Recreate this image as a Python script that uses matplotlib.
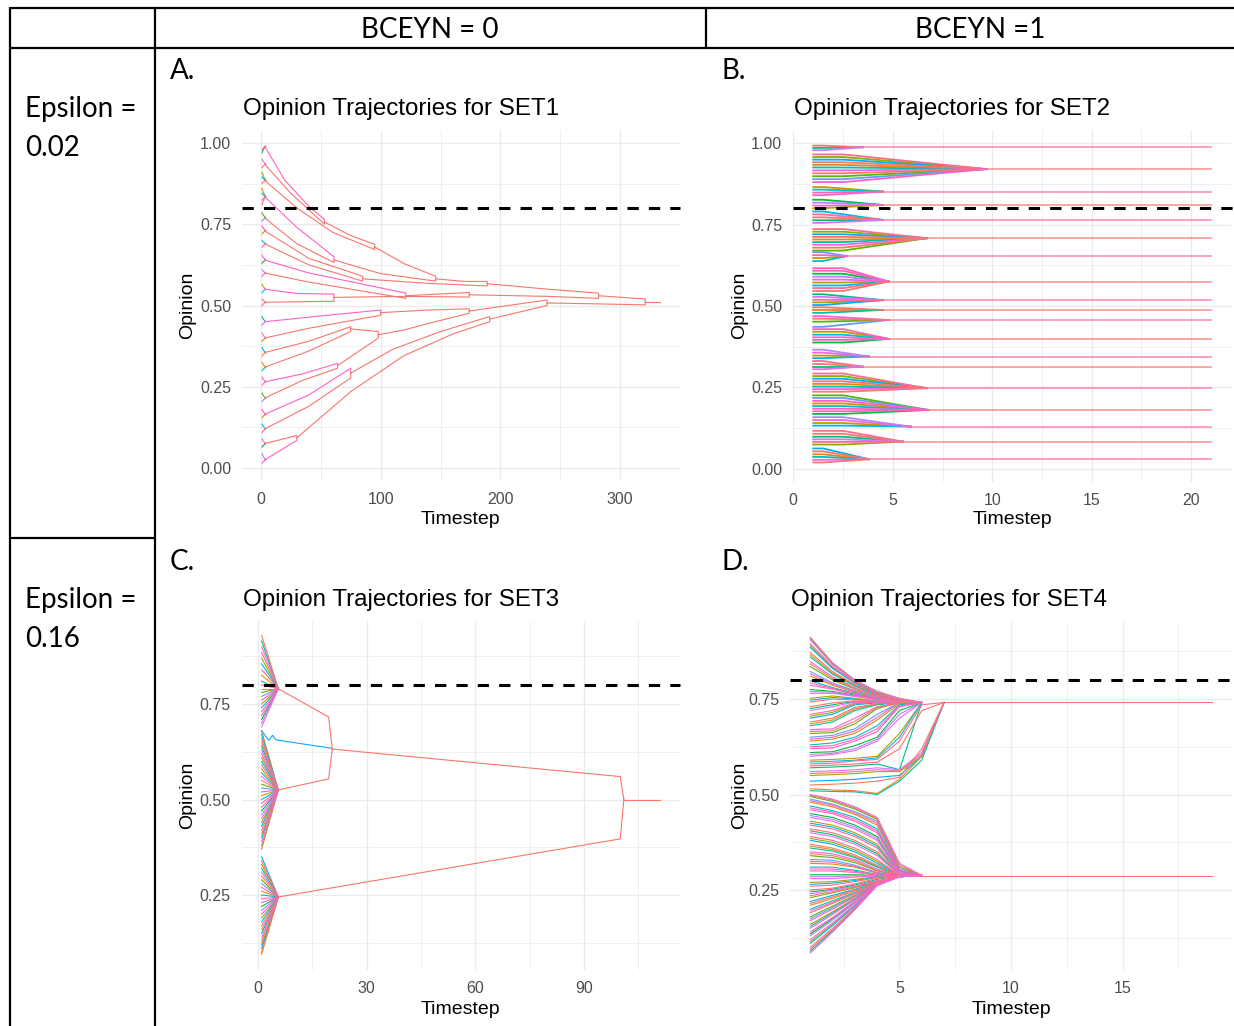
import matplotlib
matplotlib.use("Agg")
import matplotlib.pyplot as plt

W, H = 1234, 1026

# ggplot-like hue palette used for agent colours (pink tones repeated, as they dominate the picture)
HUE = ['#F8766D', '#E7861B', '#D39200', '#B79F00', '#93AA00', '#5EB300',
       '#00BA38', '#00BF74', '#00C19F', '#00BFC4', '#00B9E3', '#00ADFA',
       '#619CFF', '#AE87FF', '#DB72FB', '#F564E3', '#FF61C3', '#FF6C91',
       '#F8766D', '#FF61C3', '#F564E3', '#FF6C91', '#F8766D', '#FF61C3']
PINK_SET = {'#F8766D', '#F564E3', '#FF61C3', '#FF6C91', '#DB72FB'}
SALMON = '#F8766D'
PINK = '#FF61C3'

# ---------------- table text ----------------
col_headers = ['BCEYN = 0', 'BCEYN =1']
row_headers = [('Epsilon =', '0.02'), ('Epsilon =', '0.16')]
panel_letters = ['A.', 'B.', 'C.', 'D.']
titles = ['Opinion Trajectories for SET1', 'Opinion Trajectories for SET2',
          'Opinion Trajectories for SET3', 'Opinion Trajectories for SET4']

# ---------------- panel A (SET1): merging cluster branches (t, opinion) ----------------
A_branches = [
    [(3, 0.99), (20, 0.885), (40, 0.805), (53, 0.765), (53, 0.757)],
    [(3, 0.935), (25, 0.845), (53, 0.75), (53, 0.757)],
    [(53, 0.757), (75, 0.715), (95, 0.688), (95, 0.68)],
    [(3, 0.885), (30, 0.80), (60, 0.725), (95, 0.672), (95, 0.68)],
    [(95, 0.68), (120, 0.628), (146, 0.59), (146, 0.582)],
    [(3, 0.835), (30, 0.74), (61, 0.65), (61, 0.64)],
    [(3, 0.77), (30, 0.69), (61, 0.632), (61, 0.64)],
    [(61, 0.64), (100, 0.598), (146, 0.575), (146, 0.582)],
    [(146, 0.582), (170, 0.574), (189, 0.574), (189, 0.567)],
    [(3, 0.73), (40, 0.645), (85, 0.59), (85, 0.582)],
    [(3, 0.69), (40, 0.625), (85, 0.575), (85, 0.582)],
    [(85, 0.582), (140, 0.568), (189, 0.56), (189, 0.567)],
    [(189, 0.567), (240, 0.55), (282, 0.538), (282, 0.53)],
    [(3, 0.64), (40, 0.60), (121, 0.538), (121, 0.53)],
    [(3, 0.60), (40, 0.572), (121, 0.522), (121, 0.53)],
    [(3, 0.55), (30, 0.537), (61, 0.535), (61, 0.525)],
    [(3, 0.51), (61, 0.513), (61, 0.525)],
    [(61, 0.525), (120, 0.528), (174, 0.526), (174, 0.533)],
    [(121, 0.53), (174, 0.54), (174, 0.533)],
    [(174, 0.533), (240, 0.528), (282, 0.522), (282, 0.53)],
    [(282, 0.53), (321, 0.52), (321, 0.511)],
    [(3, 0.45), (50, 0.468), (100, 0.486), (100, 0.478)],
    [(3, 0.40), (40, 0.43), (100, 0.47), (100, 0.478)],
    [(100, 0.478), (140, 0.486), (174, 0.49), (174, 0.483)],
    [(3, 0.355), (40, 0.39), (75, 0.435), (75, 0.428)],
    [(3, 0.31), (40, 0.36), (75, 0.42), (75, 0.428)],
    [(75, 0.428), (98, 0.42), (98, 0.41)],
    [(3, 0.265), (35, 0.29), (64, 0.322), (64, 0.315)],
    [(3, 0.215), (35, 0.27), (64, 0.307), (64, 0.315)],
    [(64, 0.315), (98, 0.40), (98, 0.41)],
    [(98, 0.41), (120, 0.425), (140, 0.445), (174, 0.476), (174, 0.483)],
    [(174, 0.483), (239, 0.517), (239, 0.508)],
    [(3, 0.165), (40, 0.225), (75, 0.307), (75, 0.292)],
    [(3, 0.12), (40, 0.19), (75, 0.277), (75, 0.292)],
    [(75, 0.292), (110, 0.365), (150, 0.42), (191, 0.466), (191, 0.458)],
    [(3, 0.075), (30, 0.10), (30, 0.093)],
    [(3, 0.025), (30, 0.085), (30, 0.093)],
    [(30, 0.093), (75, 0.235), (119, 0.345), (160, 0.412), (191, 0.45), (191, 0.458)],
    [(191, 0.458), (239, 0.50), (239, 0.508)],
    [(239, 0.508), (280, 0.505), (321, 0.502), (321, 0.511)],
    [(321, 0.511), (333, 0.511)],
]
A_branch_pink = [0, 5, 13, 15, 21, 27, 32, 36]

# early agents of SET1: opinion at t=1 and the local cluster reached at t=4
A_early_start = [0.98, 0.97, 0.95, 0.925, 0.91, 0.895, 0.875, 0.86, 0.845, 0.825,
                 0.81, 0.785, 0.76, 0.745, 0.72, 0.70, 0.68, 0.655, 0.63, 0.61,
                 0.59, 0.565, 0.54, 0.52, 0.50, 0.465, 0.44, 0.415, 0.39, 0.37,
                 0.345, 0.325, 0.30, 0.28, 0.255, 0.23, 0.205, 0.18, 0.155, 0.135,
                 0.11, 0.09, 0.065, 0.045, 0.015]
A_early_end = [0.99, 0.99, 0.935, 0.935, 0.885, 0.885, 0.885, 0.835, 0.835, 0.835,
               0.835, 0.77, 0.77, 0.73, 0.73, 0.69, 0.69, 0.64, 0.64, 0.60,
               0.60, 0.55, 0.55, 0.51, 0.51, 0.45, 0.45, 0.40, 0.40, 0.355,
               0.355, 0.31, 0.31, 0.265, 0.265, 0.215, 0.215, 0.165, 0.165, 0.12,
               0.12, 0.075, 0.075, 0.025, 0.025]

# ---------------- panel B (SET2): clusters ----------------
B_cluster_y = [0.987, 0.920, 0.851, 0.810, 0.764, 0.708, 0.653, 0.575, 0.518, 0.488,
               0.457, 0.399, 0.345, 0.314, 0.248, 0.181, 0.130, 0.084, 0.030]
B_cluster_t = [3.5, 9.7, 4.5, 4.5, 4.5, 6.7, 2.7, 4.8, 4.5, 4.5,
               4.8, 4.8, 3.8, 3.5, 6.7, 6.8, 5.9, 5.5, 3.8]
B_hold_t = [1.5, 2.5, 1.5, 1.5, 1.5, 2.5, 1.5, 2.5, 1.5, 1.5,
            1.5, 2.5, 1.5, 1.5, 2.5, 2.5, 2.5, 2.5, 1.5]
B_members = [
    [0.992, 0.985, 0.978],
    [0.965, 0.957, 0.949, 0.941, 0.933, 0.925, 0.916, 0.907, 0.898, 0.889, 0.88],
    [0.865, 0.857, 0.848, 0.84],
    [0.826, 0.817, 0.808, 0.80],
    [0.79, 0.781, 0.772, 0.763, 0.755],
    [0.736, 0.728, 0.72, 0.712, 0.704, 0.696, 0.688, 0.679, 0.67],
    [0.665, 0.656, 0.647, 0.638],
    [0.616, 0.608, 0.599, 0.59, 0.581, 0.572, 0.563, 0.555, 0.546],
    [0.536, 0.528, 0.519, 0.511, 0.503],
    [0.496, 0.488, 0.479],
    [0.469, 0.461, 0.452, 0.436],
    [0.429, 0.421, 0.412, 0.404, 0.396, 0.388],
    [0.366, 0.357, 0.348, 0.34],
    [0.331, 0.322, 0.314, 0.306],
    [0.293, 0.285, 0.277, 0.269, 0.261, 0.253, 0.245, 0.237],
    [0.226, 0.218, 0.209, 0.201, 0.193, 0.185, 0.177, 0.169],
    [0.159, 0.15, 0.141, 0.133],
    [0.117, 0.108, 0.099, 0.091, 0.083, 0.075],
    [0.063, 0.054, 0.045, 0.037, 0.028, 0.02],
]
B_end_t = 21

# ---------------- panel C (SET3) ----------------
C_upper_start = [0.93, 0.915, 0.90, 0.885, 0.87, 0.855, 0.84, 0.825, 0.81, 0.80, 0.79,
                 0.78, 0.77, 0.76, 0.75, 0.74, 0.73, 0.72, 0.71, 0.70, 0.69]
C_middle_start = [0.68, 0.67, 0.66, 0.65, 0.64, 0.63, 0.62, 0.61, 0.60, 0.59, 0.58,
                  0.57, 0.56, 0.55, 0.54, 0.53, 0.52, 0.51, 0.50, 0.49, 0.48, 0.47,
                  0.46, 0.45, 0.44, 0.43, 0.42, 0.41, 0.40, 0.39, 0.38, 0.37]
C_lower_start = [0.35, 0.34, 0.33, 0.32, 0.31, 0.30, 0.29, 0.28, 0.27, 0.26, 0.25,
                 0.24, 0.23, 0.22, 0.21, 0.20, 0.19, 0.18, 0.17, 0.16, 0.15, 0.14,
                 0.13, 0.12, 0.11, 0.10, 0.095]
C_cluster_y = [0.79, 0.525, 0.245]
C_cluster_t = [5.6, 5.6, 5.6]
C_trunks = [
    [(5.6, 0.79), (19.5, 0.716), (20.5, 0.632)],
    [(5.6, 0.525), (19.5, 0.554), (20.5, 0.632)],
    [(20.5, 0.632), (100, 0.56), (101, 0.50)],
    [(5.6, 0.245), (100, 0.397), (101, 0.50)],
    [(101, 0.50), (111, 0.50)],
]
C_cyan = [(1, 0.68), (3, 0.655), (4, 0.668), (5, 0.656), (20.5, 0.634)]

# ---------------- panel D (SET4): opinion of each agent at t = 1, 2, 3, ... ----------------
D_upper = [
    [0.912, 0.845, 0.800, 0.770, 0.752, 0.741],
    [0.908, 0.842, 0.798, 0.769, 0.751, 0.741],
    [0.905, 0.840, 0.797, 0.768, 0.750, 0.741],
    [0.895, 0.835, 0.795, 0.766, 0.748, 0.741],
    [0.890, 0.832, 0.793, 0.765, 0.747, 0.741],
    [0.885, 0.830, 0.792, 0.764, 0.747, 0.741],
    [0.872, 0.822, 0.788, 0.762, 0.745, 0.741],
    [0.866, 0.818, 0.786, 0.761, 0.744, 0.741],
    [0.860, 0.815, 0.784, 0.760, 0.744, 0.741],
    [0.848, 0.808, 0.780, 0.758, 0.743, 0.741],
    [0.842, 0.804, 0.778, 0.757, 0.742, 0.741],
    [0.835, 0.800, 0.776, 0.756, 0.742, 0.741],
    [0.822, 0.792, 0.772, 0.754, 0.741],
    [0.816, 0.789, 0.770, 0.753, 0.741],
    [0.810, 0.786, 0.768, 0.752, 0.741],
    [0.798, 0.780, 0.765, 0.750, 0.741],
    [0.792, 0.778, 0.763, 0.749, 0.741],
    [0.786, 0.776, 0.762, 0.748, 0.741],
    [0.775, 0.770, 0.760, 0.750, 0.741],
    [0.770, 0.768, 0.758, 0.749, 0.741],
    [0.765, 0.765, 0.757, 0.748, 0.741],
    [0.752, 0.758, 0.752, 0.745, 0.741],
    [0.747, 0.754, 0.750, 0.744, 0.741],
    [0.742, 0.750, 0.748, 0.744, 0.741],
    [0.730, 0.740, 0.745, 0.743, 0.741],
    [0.725, 0.735, 0.744, 0.742, 0.741],
    [0.720, 0.730, 0.742, 0.742, 0.741],
    [0.710, 0.720, 0.740, 0.741],
    [0.705, 0.715, 0.738, 0.741],
    [0.700, 0.710, 0.735, 0.740, 0.741],
    [0.690, 0.700, 0.728, 0.738, 0.741],
    [0.685, 0.695, 0.724, 0.737, 0.741],
    [0.680, 0.690, 0.720, 0.735, 0.741],
    [0.670, 0.672, 0.700, 0.730, 0.741],
    [0.665, 0.667, 0.692, 0.728, 0.741],
    [0.660, 0.662, 0.685, 0.725, 0.741],
    [0.650, 0.655, 0.672, 0.710, 0.741],
    [0.645, 0.650, 0.666, 0.702, 0.741],
    [0.640, 0.645, 0.660, 0.695, 0.738, 0.741],
    [0.630, 0.635, 0.650, 0.680, 0.735, 0.741],
    [0.625, 0.628, 0.645, 0.672, 0.732, 0.741],
    [0.620, 0.622, 0.640, 0.665, 0.730, 0.741],
    [0.610, 0.612, 0.628, 0.650, 0.720, 0.741],
    [0.605, 0.608, 0.620, 0.645, 0.710, 0.741],
    [0.600, 0.605, 0.615, 0.640, 0.700, 0.741],
    [0.590, 0.592, 0.595, 0.600, 0.660, 0.741],
    [0.585, 0.587, 0.590, 0.596, 0.650, 0.741],
    [0.580, 0.582, 0.588, 0.592, 0.640, 0.735, 0.741],
    [0.575, 0.577, 0.580, 0.585, 0.620, 0.720, 0.741],
    [0.570, 0.572, 0.575, 0.580, 0.565, 0.741],
    [0.560, 0.562, 0.565, 0.570, 0.565, 0.610, 0.741],
    [0.555, 0.557, 0.560, 0.565, 0.562, 0.605, 0.741],
    [0.550, 0.552, 0.555, 0.560, 0.560, 0.600, 0.741],
    [0.535, 0.537, 0.540, 0.545, 0.550, 0.600, 0.741],
    [0.525, 0.527, 0.530, 0.535, 0.545, 0.620, 0.741],
    [0.515, 0.512, 0.510, 0.503, 0.540, 0.600, 0.741],
    [0.510, 0.508, 0.507, 0.500, 0.535, 0.590, 0.741],
]
D_lower = [
    [0.500, 0.488, 0.468, 0.440, 0.320, 0.288],
    [0.498, 0.485, 0.465, 0.437, 0.315, 0.288],
    [0.495, 0.482, 0.462, 0.435, 0.310, 0.288],
    [0.488, 0.475, 0.455, 0.430, 0.305, 0.288],
    [0.484, 0.472, 0.452, 0.425, 0.302, 0.288],
    [0.480, 0.468, 0.448, 0.420, 0.300, 0.288],
    [0.470, 0.458, 0.440, 0.410, 0.298, 0.288],
    [0.465, 0.454, 0.435, 0.405, 0.296, 0.288],
    [0.460, 0.450, 0.430, 0.400, 0.295, 0.288],
    [0.450, 0.440, 0.420, 0.390, 0.292, 0.288],
    [0.445, 0.435, 0.415, 0.385, 0.291, 0.288],
    [0.440, 0.430, 0.410, 0.380, 0.290, 0.288],
    [0.430, 0.420, 0.400, 0.370, 0.290, 0.288],
    [0.425, 0.415, 0.395, 0.365, 0.289, 0.288],
    [0.420, 0.410, 0.390, 0.360, 0.289, 0.288],
    [0.410, 0.400, 0.380, 0.350, 0.290, 0.288],
    [0.405, 0.395, 0.375, 0.345, 0.289, 0.288],
    [0.400, 0.390, 0.370, 0.340, 0.289, 0.288],
    [0.390, 0.380, 0.360, 0.330, 0.288],
    [0.385, 0.375, 0.355, 0.325, 0.288],
    [0.380, 0.370, 0.350, 0.320, 0.288],
    [0.370, 0.360, 0.342, 0.315, 0.288],
    [0.365, 0.356, 0.338, 0.312, 0.288],
    [0.360, 0.352, 0.335, 0.310, 0.288],
    [0.350, 0.345, 0.330, 0.305, 0.288],
    [0.345, 0.340, 0.326, 0.302, 0.288],
    [0.340, 0.335, 0.322, 0.300, 0.288],
    [0.330, 0.328, 0.315, 0.296, 0.288],
    [0.325, 0.323, 0.312, 0.295, 0.288],
    [0.320, 0.318, 0.310, 0.294, 0.288],
    [0.310, 0.310, 0.302, 0.291, 0.288],
    [0.305, 0.305, 0.299, 0.290, 0.288],
    [0.300, 0.300, 0.296, 0.289, 0.288],
    [0.290, 0.290, 0.290, 0.288],
    [0.285, 0.285, 0.287, 0.288],
    [0.280, 0.280, 0.284, 0.287, 0.288],
    [0.270, 0.272, 0.278, 0.285, 0.288],
    [0.265, 0.268, 0.275, 0.284, 0.288],
    [0.260, 0.263, 0.272, 0.283, 0.288],
    [0.250, 0.255, 0.266, 0.281, 0.288],
    [0.245, 0.252, 0.263, 0.278, 0.288],
    [0.240, 0.250, 0.260, 0.275, 0.286, 0.288],
    [0.235, 0.246, 0.258, 0.274, 0.286, 0.288],
    [0.230, 0.243, 0.256, 0.273, 0.286, 0.288],
    [0.220, 0.236, 0.252, 0.272, 0.285, 0.288],
    [0.215, 0.232, 0.250, 0.271, 0.285, 0.288],
    [0.210, 0.228, 0.248, 0.271, 0.285, 0.288],
    [0.200, 0.222, 0.244, 0.270, 0.285, 0.288],
    [0.195, 0.218, 0.242, 0.270, 0.285, 0.288],
    [0.190, 0.215, 0.240, 0.269, 0.285, 0.288],
    [0.180, 0.208, 0.236, 0.268, 0.285, 0.288],
    [0.175, 0.204, 0.234, 0.267, 0.285, 0.288],
    [0.170, 0.200, 0.232, 0.267, 0.285, 0.288],
    [0.160, 0.193, 0.228, 0.266, 0.285, 0.288],
    [0.155, 0.190, 0.226, 0.266, 0.285, 0.288],
    [0.150, 0.186, 0.224, 0.265, 0.285, 0.288],
    [0.140, 0.178, 0.220, 0.265, 0.285, 0.288],
    [0.135, 0.175, 0.218, 0.265, 0.285, 0.288],
    [0.130, 0.171, 0.216, 0.264, 0.285, 0.288],
    [0.120, 0.164, 0.212, 0.264, 0.285, 0.288],
    [0.115, 0.160, 0.210, 0.263, 0.285, 0.288],
    [0.110, 0.157, 0.208, 0.263, 0.285, 0.288],
    [0.100, 0.150, 0.204, 0.263, 0.285, 0.288],
    [0.095, 0.146, 0.202, 0.262, 0.285, 0.288],
    [0.090, 0.143, 0.200, 0.262, 0.285, 0.288],
    [0.085, 0.140, 0.198, 0.262, 0.285, 0.288],
]
D_cluster_y = [0.741, 0.288]
D_end_t = 19
threshold = 0.8

# ---------------- figure ----------------
plt.rcParams['font.family'] = ['Liberation Sans', 'DejaVu Sans']
fig = plt.figure(figsize=(W / 100, H / 100), dpi=100)


def fx(x):
    return x / W


def fy(y):
    return 1 - y / H


def make_panel(l, t, r, b, xlim, ylim, xmaj, xmin, ymaj, ymin):
    ax = fig.add_axes([fx(l), fy(b), (r - l) / W, (b - t) / H])
    ax.set_xlim(*xlim)
    ax.set_ylim(*ylim)
    ax.set_xticks(xmaj)
    ax.set_xticklabels(['%d' % v for v in xmaj])
    ax.set_xticks(xmin, minor=True)
    ax.set_yticks(ymaj)
    ax.set_yticklabels(['%.2f' % v for v in ymaj])
    ax.set_yticks(ymin, minor=True)
    ax.grid(True, which='major', color='#EBEBEB', lw=1.0)
    ax.grid(True, which='minor', color='#EBEBEB', lw=0.55)
    ax.set_axisbelow(True)
    for s in ax.spines.values():
        s.set_visible(False)
    ax.tick_params(which='both', length=0, labelsize=11.5, labelcolor='#4D4D4D')
    ax.tick_params(axis='x', pad=8)
    ax.tick_params(axis='y', pad=8)
    return ax


def agent_style(k):
    c = HUE[(k * 7) % len(HUE)]
    return dict(color=c, zorder=2.5 if c in PINK_SET else 2.0)


LW = 0.8

# Panel A
axA = make_panel(242.3, 130.3, 679.5, 480.7, (-15.6, 349.6), (-0.039, 1.039),
                 [0, 100, 200, 300], [50, 150, 250], [0, 0.25, 0.5, 0.75, 1.0],
                 [0.125, 0.375, 0.625, 0.875])
for k, (y0, y1) in enumerate(zip(A_early_start, A_early_end)):
    axA.plot([1, 2, 4], [y0, (y0 + y1) / 2, y1], lw=LW, **agent_style(k))
for k, br in enumerate(A_branches):
    ts, ys = zip(*br)
    axA.plot(ts, ys, color=PINK if k in A_branch_pink else SALMON, lw=LW, zorder=3)

# Panel B
axB = make_panel(793.3, 130.3, 1231.0, 481.7, (0, 22), (-0.039, 1.039),
                 [0, 5, 10, 15, 20], [2.5, 7.5, 12.5, 17.5], [0, 0.25, 0.5, 0.75, 1.0],
                 [0.125, 0.375, 0.625, 0.875])
k = 0
for yc, tc, th, mem in zip(B_cluster_y, B_cluster_t, B_hold_t, B_members):
    for y0 in mem:
        axB.plot([1, th, tc], [y0, y0, yc], lw=1.3, **agent_style(k))
        k += 1
for k2, (yc, tc) in enumerate(zip(B_cluster_y, B_cluster_t)):
    axB.plot([tc, B_end_t], [yc, yc], color=SALMON if k2 % 2 else '#FF6C91',
             lw=1.2, alpha=0.75, zorder=3)

# Panel C
axC = make_panel(241.7, 621.1, 680.0, 970.3, (-4.5, 116.5), (0.053, 0.967),
                 [0, 30, 60, 90], [15, 45, 75, 105], [0.25, 0.5, 0.75],
                 [0.125, 0.375, 0.625, 0.875])
k = 0
for starts, yc, tc in zip([C_upper_start, C_middle_start, C_lower_start], C_cluster_y, C_cluster_t):
    for y0 in starts:
        axC.plot([1, tc], [y0, yc], lw=LW, **agent_style(k))
        k += 1
ts, ys = zip(*C_cyan)
axC.plot(ts, ys, color='#00ADFA', lw=LW, zorder=3)
for br in C_trunks:
    ts, ys = zip(*br)
    axC.plot(ts, ys, color=SALMON, lw=LW, zorder=3)

# Panel D
axD = make_panel(790.2, 621.5, 1231.8, 969.5, (0.1, 19.9), (0.042, 0.953),
                 [5, 10, 15], [2.5, 7.5, 12.5, 17.5], [0.25, 0.5, 0.75],
                 [0.125, 0.375, 0.625, 0.875])
k = 0
for rows in (D_upper, D_lower):
    for row in rows:
        axD.plot(range(1, len(row) + 1), row, lw=LW, **agent_style(k))
        k += 1
for yc, rows in zip(D_cluster_y, (D_upper, D_lower)):
    t0 = max(len(r) for r in rows)
    axD.plot([t0, D_end_t], [yc, yc], color=SALMON, lw=LW, zorder=3)

# threshold lines
for ax, xmax in ((axA, 1.0), (axB, 1.01), (axC, 1.0), (axD, 1.01)):
    ax.axhline(threshold, xmin=0, xmax=xmax, color='black', lw=2.2,
               linestyle=(0, (3.7, 3.3)), clip_on=False, zorder=5)

# panel texts
panel_boxes = [(242.3, 679.5, 108, 518, 188, 305), (793.3, 1231.0, 108, 518, 740, 305),
               (241.7, 680.0, 599, 1009, 188, 795), (790.2, 1231.8, 599, 1009, 740, 795)]
for (l, r, ty, xy, ox, oy), title in zip(panel_boxes, titles):
    fig.text(fx(l + 1), fy(ty + 1), title, ha='left', va='center', fontsize=17.4)
    fig.text(fx((l + r) / 2), fy(xy + 1), 'Timestep', ha='center', va='center', fontsize=14)
    fig.text(fx(ox), fy(oy), 'Opinion', ha='center', va='center', rotation=90, fontsize=14)

# table grid
tbl = dict(color='black', lw=1.6, solid_capstyle='butt')
fig.add_artist(plt.Line2D([fx(10), fx(1234)], [fy(8), fy(8)], **tbl))
fig.add_artist(plt.Line2D([fx(10), fx(1234)], [fy(48), fy(48)], **tbl))
fig.add_artist(plt.Line2D([fx(10), fx(155)], [fy(538), fy(538)], **tbl))
fig.add_artist(plt.Line2D([fx(10), fx(10)], [fy(7), fy(1026)], **tbl))
fig.add_artist(plt.Line2D([fx(155), fx(155)], [fy(7), fy(1026)], **tbl))
fig.add_artist(plt.Line2D([fx(706), fx(706)], [fy(7), fy(48)], **tbl))

tfont = dict(family=['Lato', 'DejaVu Sans'], fontsize=20)
fig.text(fx(430), fy(30), col_headers[0], ha='center', va='center', **tfont)
fig.text(fx(980), fy(30), col_headers[1], ha='center', va='center', **tfont)
for (a, b), y in zip(row_headers, (109, 600)):
    fig.text(fx(25), fy(y), a, ha='left', va='center', **tfont)
    fig.text(fx(25), fy(y + 39), b, ha='left', va='center', **tfont)
for letter, (x, y) in zip(panel_letters, [(170, 71), (721, 71), (170, 562), (721, 562)]):
    fig.text(fx(x), fy(y), letter, ha='left', va='center', **tfont)

fig.savefig('out.png', dpi=100)
